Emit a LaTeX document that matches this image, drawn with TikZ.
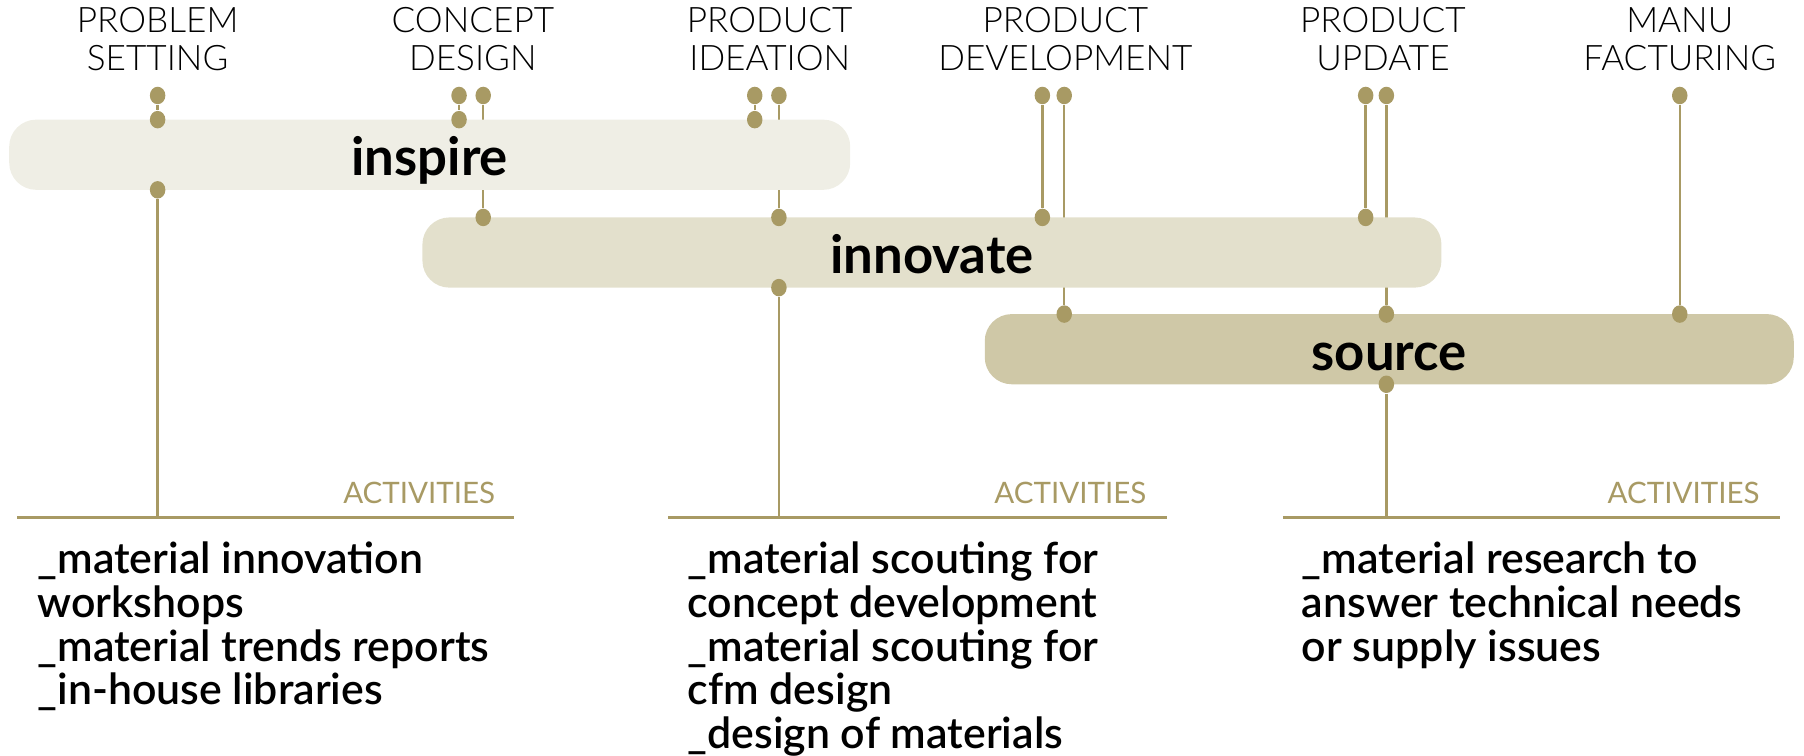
\documentclass[tikz,border=0pt]{standalone}
\usepackage{fontspec}
\setmainfont{Lato}
\newfontfamily\hdfont{Lato Light}
\newfontfamily\actfont{Lato Semibold}
\usepackage{tikz}
\usetikzlibrary{shapes.geometric,backgrounds}

\definecolor{linetan}{HTML}{A89A64}
\definecolor{inspirefill}{HTML}{EFEEE5}
\definecolor{innovatefill}{HTML}{E3E0CC}
\definecolor{sourcefill}{HTML}{CFC8A7}

\begin{document}
\begin{tikzpicture}[x=0.11505mm, y=-0.11505mm,
        phase/.style={font=\hdfont\fontsize{10}{10.6}\selectfont, align=center, inner sep=0pt},
        bar/.style={rounded corners=2.7mm, minimum height=7.02mm, inner sep=0pt, text height=12pt, text depth=0pt, font=\bfseries\fontsize{15}{18}\selectfont},
        dot/.style={ellipse, fill=linetan, inner sep=0pt, minimum width=1.55mm, minimum height=1.75mm},
        link/.style={draw=linetan, line width=0.7pt},
        acthead/.style={text=linetan, font=\fontsize{8.4}{9}\selectfont, anchor=base east, inner sep=0pt},
        actlist/.style={font=\actfont\fontsize{12.2}{12.5}\selectfont, align=left, anchor=north west, inner sep=0pt}
        ]
            \useasboundingbox (0,0) rectangle (1568,657);

            % phases
            \node[phase] (hps) at (137,34) {PROBLEM\\SETTING};
            \node[phase] (hcd) at (411,34) {CONCEPT\\DESIGN};
            \node[phase] (hpi) at (669,34) {PRODUCT\\IDEATION};
            \node[phase] (hpd) at (926,34) {PRODUCT\\DEVELOPMENT};
            \node[phase] (hpu) at (1202,34) {PRODUCT\\UPDATE};
            \node[phase] (hmf) at (1460,34) {MANU\\FACTURING};

            % bars
            \node[bar, fill=inspirefill, minimum width=84.1mm] (inspire) at (373.5,134.5) {inspire};
            \node[bar, fill=innovatefill, minimum width=101.9mm] (innovate) at (810,219.5) {innovate};
            \node[bar, fill=sourcefill, minimum width=80.9mm] (source) at (1207.5,303.5) {source};

            % dots
            \node[dot] (psa) at (137,83) {};
            \node[dot] (psb) at (137,104) {};
            \node[dot] (psc) at (137,165) {};
            \node[dot] (cda) at (399,83) {};
            \node[dot] (cdb) at (399,104) {};
            \node[dot] (cdc) at (420,83) {};
            \node[dot] (cdd) at (420,189) {};
            \node[dot] (pia) at (656,83) {};
            \node[dot] (pib) at (656,104) {};
            \node[dot] (pic) at (677,83) {};
            \node[dot] (pid) at (677,189) {};
            \node[dot] (pie) at (677,250) {};
            \node[dot] (pda) at (906,83) {};
            \node[dot] (pdb) at (906,189) {};
            \node[dot] (pdc) at (925,83) {};
            \node[dot] (pdd) at (925,273) {};
            \node[dot] (pua) at (1187,83) {};
            \node[dot] (pub) at (1187,189) {};
            \node[dot] (puc) at (1205,83) {};
            \node[dot] (pud) at (1205,273) {};
            \node[dot] (pue) at (1205,334) {};
            \node[dot] (mfa) at (1460,83) {};
            \node[dot] (mfb) at (1460,273) {};

            % activity rules
            \coordinate (ruleal) at (15,450);
            \coordinate (rulear) at (447,450);
            \coordinate (rulebl) at (581,450);
            \coordinate (rulebr) at (1014,450);
            \coordinate (rulecl) at (1115,450);
            \coordinate (rulecr) at (1547,450);
            \coordinate (foota) at (137,450);
            \coordinate (footb) at (677,450);
            \coordinate (footc) at (1205,450);

            \begin{scope}[on background layer]
                \draw[link] (psa) -- (psb);
                \draw[link] (psc) -- (foota);
                \draw[link] (cda) -- (cdb);
                \draw[link] (cdc) -- (cdd);
                \draw[link] (pia) -- (pib);
                \draw[link] (pic) -- (pid);
                \draw[link] (pie) -- (footb);
                \draw[link] (pda) -- (pdb);
                \draw[link] (pdc) -- (pdd);
                \draw[link] (pua) -- (pub);
                \draw[link] (puc) -- (pud);
                \draw[link] (pue) -- (footc);
                \draw[link] (mfa) -- (mfb);
                \draw[link] (ruleal) -- (rulear);
                \draw[link] (rulebl) -- (rulebr);
                \draw[link] (rulecl) -- (rulecr);
            \end{scope}

            % activities
            \node[acthead] (acta) at (431,438) {ACTIVITIES};
            \node[acthead] (actb) at (997,438) {ACTIVITIES};
            \node[acthead] (actc) at (1530,438) {ACTIVITIES};

            \node[actlist] (lista) at (32,470) {\_material innovation\\workshops\\\_material trends reports\\\_in-house libraries};
            \node[actlist] (listb) at (597,470) {\_material scouting for\\concept development\\\_material scouting for\\cfm design\\\_design of materials};
            \node[actlist] (listc) at (1131,470) {\_material research to\\answer technical needs\\or supply issues};

        \end{tikzpicture}
\end{document}
